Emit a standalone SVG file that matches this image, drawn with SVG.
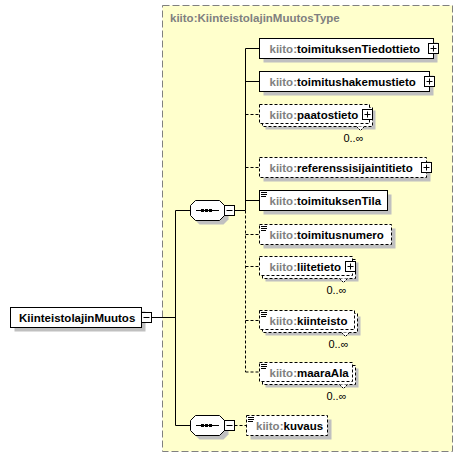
<svg xmlns="http://www.w3.org/2000/svg" xmlns:xlink="http://www.w3.org/1999/xlink" width="462" height="457" viewBox="0 0 462 457">
<style>
.bg{fill:#fff}
.cont{fill:#ffffcc;stroke:#808080;stroke-dasharray:7,3}
.box{fill:#fff;stroke:#000}
.dbox{fill:#fff;stroke:#000;stroke-dasharray:3,2}
.sh{fill:#c0c0c0}
.ln{stroke:#000;fill:none}
.dl{stroke:#000;fill:none;stroke-dasharray:3,2}
.t{font-family:"Liberation Sans",Arial,sans-serif;font-weight:bold;font-size:11.5px;fill:#000}
.p{fill:#808080}
.occ{font-family:"Liberation Sans",Arial,sans-serif;font-size:11px;fill:#000}
.notch{fill:#fff;stroke:#000;stroke-dasharray:2,1}
</style>
<defs>
<g id="plus"><rect x="0.5" y="0.5" width="10" height="10" fill="#fff" stroke="#000"/><path d="M2.5 5.5h6M5.5 2.5v6" stroke="#000"/></g>
<g id="minus"><rect x="0.5" y="0.5" width="10" height="10" fill="#fff" stroke="#000"/><path d="M2.5 5.5h6" stroke="#000"/></g>
<g id="doc"><path d="M2 2.5h6M2 4.5h6M2 6.5h5" stroke="#000"/></g>
<g id="seq"><path d="M5.5 0.5h24l5 5v10l-5 5h-24l-5-5v-10z" class="sh" transform="translate(4,4)"/><path d="M5.5 0.5h24l5 5v10l-5 5h-24l-5-5v-10z" fill="#fff" stroke="#000"/><path d="M6 10.5h23" stroke="#000"/><rect x="11" y="9" width="3" height="3" fill="#000"/><rect x="15" y="9" width="3" height="3" fill="#000"/><rect x="19" y="9" width="3" height="3" fill="#000"/></g>
</defs>
<rect class="bg" x="0" y="0" width="462" height="457"/>
<g id="container">
<rect class="cont" x="162.5" y="5.5" width="290" height="446"/>
<text class="t p" x="170" y="22">kiito:KiinteistolajinMuutosType</text>
</g>
<g id="connectors">
<path class="ln" d="M151.5 317.5H175.5M175.5 210.5V425.5M175.5 210.5H190.5M175.5 425.5H190.5"/>
<path class="ln" d="M234.5 210.5H245.5M245.5 48.5V210.5M245.5 48.5H259.5M245.5 81.5H259.5M245.5 200.5H259.5"/>
<path class="dl" d="M245.5 210.5V372M245.5 114.5H259.5M245.5 167.5H259.5M245.5 234.5H259.5M245.5 266.5H259.5M245.5 320.5H259.5M245.5 372H259.5M234.5 425.5H246.5"/>
</g>
<g id="root">
<rect class="sh" x="14.5" y="311.5" width="131" height="20"/>
<rect class="box" x="10.5" y="307.5" width="131" height="20"/>
<text class="t" x="19" y="321.5">KiinteistolajinMuutos</text>
<use xlink:href="#minus" x="141" y="312"/>
</g>
<g id="sequence1">
<use xlink:href="#seq" x="190" y="200"/>
<use xlink:href="#minus" x="224" y="205"/>
</g>
<g id="sequence2">
<use xlink:href="#seq" x="190" y="415"/>
<use xlink:href="#minus" x="224" y="420"/>
</g>
<g id="toimituksenTiedottieto">
<rect class="sh" x="263.5" y="42.5" width="174" height="20"/>
<rect class="box" x="259.5" y="38.5" width="174" height="20"/>
<text class="t" x="269.5" y="52.5"><tspan class="p">kiito:</tspan>toimituksenTiedottieto</text>
<use xlink:href="#plus" x="428" y="43"/>
</g>
<g id="toimitushakemustieto">
<rect class="sh" x="263.5" y="75.5" width="170" height="20"/>
<rect class="box" x="259.5" y="71.5" width="170" height="20"/>
<text class="t" x="269.5" y="85.5"><tspan class="p">kiito:</tspan>toimitushakemustieto</text>
<use xlink:href="#plus" x="424" y="76"/>
</g>
<g id="paatostieto">
<rect class="sh" x="265.5" y="110.5" width="110" height="19"/>
<rect class="dbox" x="262.5" y="107.5" width="110" height="19"/>
<rect class="dbox" x="259.5" y="104.5" width="110" height="19"/>
<text class="t" x="269.5" y="118.5"><tspan class="p">kiito:</tspan>paatostieto</text>
<use xlink:href="#plus" x="362" y="109"/>
<path class="notch" d="M356.5 126.5L360.5 130.5L364.5 126.5"/>
<text class="occ" x="363.5" y="142" text-anchor="end">0..∞</text>
</g>
<g id="referenssisijaintitieto">
<rect class="sh" x="263.5" y="161.5" width="167" height="20"/>
<rect class="dbox" x="259.5" y="157.5" width="167" height="20"/>
<text class="t" x="269.5" y="171.5"><tspan class="p">kiito:</tspan>referenssisijaintitieto</text>
<use xlink:href="#plus" x="421" y="162"/>
</g>
<g id="toimituksenTila">
<rect class="sh" x="263.5" y="194.5" width="128" height="20"/>
<rect class="box" x="259.5" y="190.5" width="128" height="20"/>
<use xlink:href="#doc" x="259" y="190"/>
<text class="t" x="269.5" y="204.5"><tspan class="p">kiito:</tspan>toimituksenTila</text>
</g>
<g id="toimitusnumero">
<rect class="sh" x="263.5" y="228.5" width="132" height="20"/>
<rect class="dbox" x="259.5" y="224.5" width="132" height="20"/>
<use xlink:href="#doc" x="259" y="224"/>
<text class="t" x="269.5" y="238.5"><tspan class="p">kiito:</tspan>toimitusnumero</text>
</g>
<g id="liitetieto">
<rect class="sh" x="265.5" y="262.5" width="93" height="19"/>
<rect class="dbox" x="262.5" y="259.5" width="93" height="19"/>
<rect class="dbox" x="259.5" y="256.5" width="93" height="19"/>
<text class="t" x="269.5" y="270.5"><tspan class="p">kiito:</tspan>liitetieto</text>
<use xlink:href="#plus" x="345" y="261"/>
<path class="notch" d="M339.5 278.5L343.5 282.5L347.5 278.5"/>
<text class="occ" x="346.5" y="294" text-anchor="end">0..∞</text>
</g>
<g id="kiinteisto">
<rect class="sh" x="265.5" y="316.5" width="95" height="19"/>
<rect class="dbox" x="262.5" y="313.5" width="95" height="19"/>
<rect class="dbox" x="259.5" y="310.5" width="95" height="19"/>
<use xlink:href="#doc" x="259" y="310"/>
<text class="t" x="269.5" y="324.5"><tspan class="p">kiito:</tspan>kiinteisto</text>
<path class="notch" d="M341.5 332.5L345.5 336.5L349.5 332.5"/>
<text class="occ" x="348.5" y="348" text-anchor="end">0..∞</text>
</g>
<g id="maaraAla">
<rect class="sh" x="265.5" y="368.5" width="93" height="19"/>
<rect class="dbox" x="262.5" y="365.5" width="93" height="19"/>
<rect class="dbox" x="259.5" y="362.5" width="93" height="19"/>
<use xlink:href="#doc" x="259" y="362"/>
<text class="t" x="269.5" y="376.5"><tspan class="p">kiito:</tspan>maaraAla</text>
<path class="notch" d="M339.5 384.5L343.5 388.5L347.5 384.5"/>
<text class="occ" x="346.5" y="400" text-anchor="end">0..∞</text>
</g>
<g id="kuvaus">
<rect class="sh" x="250.5" y="419.5" width="81" height="20"/>
<rect class="dbox" x="246.5" y="415.5" width="81" height="20"/>
<use xlink:href="#doc" x="246" y="415"/>
<text class="t" x="256" y="429.5"><tspan class="p">kiito:</tspan>kuvaus</text>
</g>
</svg>
